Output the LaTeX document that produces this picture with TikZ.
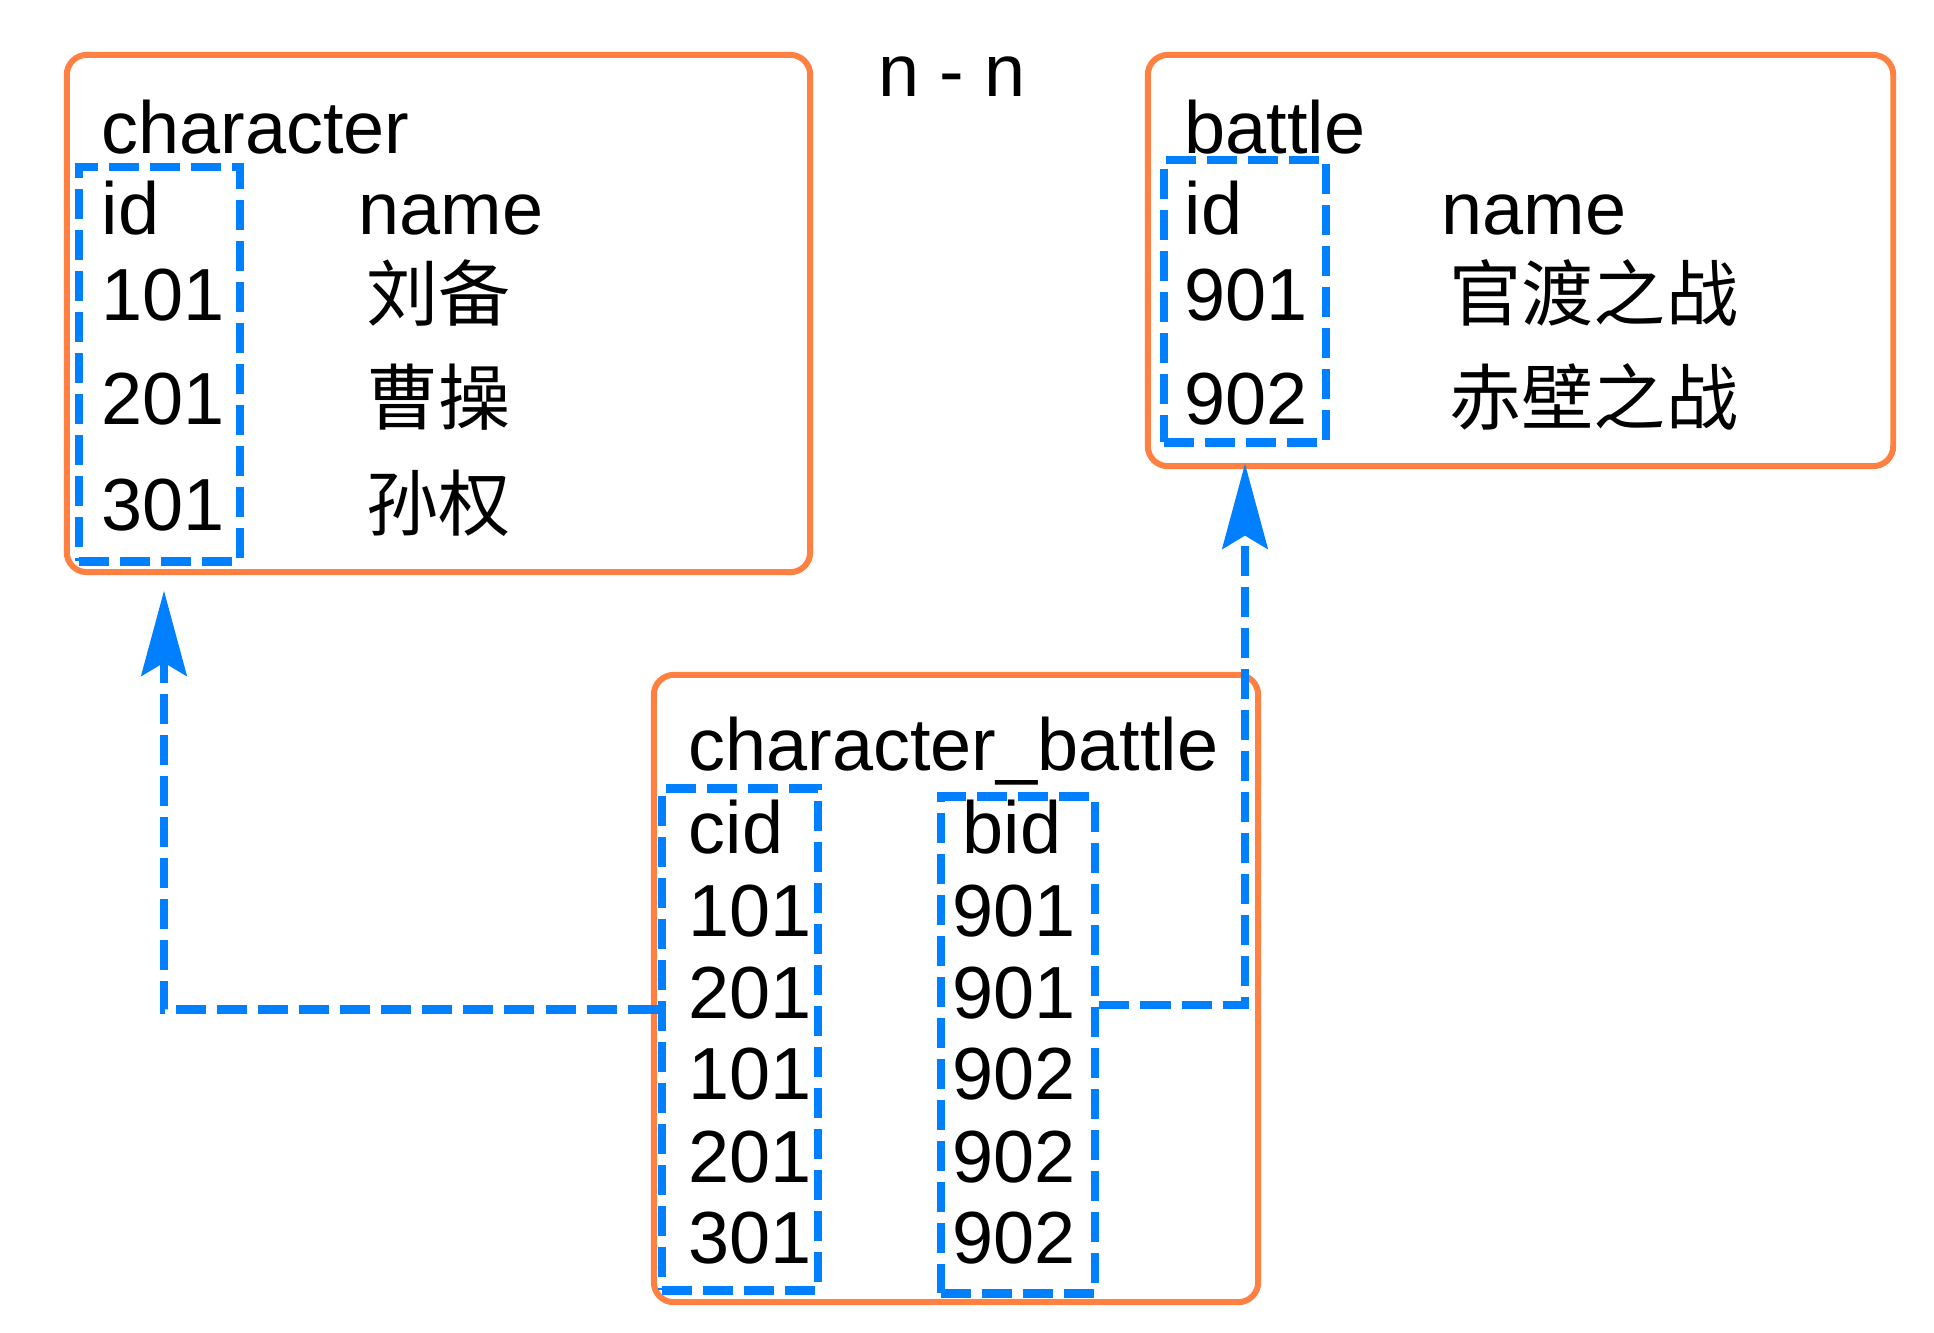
\documentclass[tikz,border=0pt]{standalone}
\usepackage{fontspec}
\setmainfont{Liberation Sans}
\newfontfamily\cjk{Noto Sans CJK SC}
\usetikzlibrary{arrows.meta}
\definecolor{tblorange}{RGB}{255,128,64}
\definecolor{keyblue}{RGB}{0,128,255}

\begin{document}
\begin{tikzpicture}[x=0.01cm, y=-0.01cm]

\tikzstyle{every node}=[font=\fontsize{21}{25}\selectfont]
\tikzstyle{tbl} = [rectangle, draw=tblorange, line width=1.7pt, rounded corners=0.2cm]
\tikzstyle{keycol} = [rectangle, draw=keyblue, line width=2.5pt, dash pattern=on 0.3cm off 0.11cm]
\tikzstyle{txt} = [anchor=base west, inner sep=0pt]
\tikzstyle{zh} = [txt, font=\cjk\fontsize{20.5}{24}\selectfont]
\tikzstyle{fk} = [draw=keyblue, line width=2.5pt, dash pattern=on 0.3cm off 0.11cm, -{Stealth[length=0.85cm, width=0.45cm, inset=0.13cm]}]

\useasboundingbox (0,0) rectangle (1934,1332);

% Tablas
\node[tbl, minimum width=7.43cm, minimum height=5.17cm] (character) at (438.5,313.5) {};
\node[tbl, minimum width=7.45cm, minimum height=4.11cm] (battle) at (1520.5,260.5) {};
\node[tbl, minimum width=6.04cm, minimum height=6.27cm] (characterbattle) at (956,988.5) {};

\node[txt, anchor=base] (cardinality) at (952,96) {n - n};

% character
\node[txt] (chartitle) at (101,153) {character};
\node[txt] (charidhead) at (101,234) {id};
\node[txt] (charnamehead) at (358,234) {name};
\node[txt] (charid1) at (101,320) {101};
\node[txt] (charid2) at (101,424) {201};
\node[txt] (charid3) at (101,530) {301};
\node[zh] (charname1) at (366,320) {刘备};
\node[zh] (charname2) at (366,424) {曹操};
\node[zh] (charname3) at (366,530) {孙权};
\node[keycol, minimum width=1.61cm, minimum height=3.94cm] (charidcol) at (159.5,364) {};

% battle
\node[txt] (battletitle) at (1184,153) {battle};
\node[txt] (battleidhead) at (1184,234) {id};
\node[txt] (battlenamehead) at (1441,234) {name};
\node[txt] (battleid1) at (1184,320) {901};
\node[txt] (battleid2) at (1184,424) {902};
\node[zh] (battlename1) at (1449,320) {官渡之战};
\node[zh] (battlename2) at (1449,424) {赤壁之战};
\node[keycol, minimum width=1.62cm, minimum height=2.82cm] (battleidcol) at (1245,301) {};

% character_battle
\node[txt] (cbtitle) at (688,770) {character\_battle};
\node[txt] (cidhead) at (688,853) {cid};
\node[txt] (bidhead) at (962,853) {bid};
\node[txt] (cid1) at (688,936) {101};
\node[txt] (cid2) at (688,1018) {201};
\node[txt] (cid3) at (688,1099) {101};
\node[txt] (cid4) at (688,1182) {201};
\node[txt] (cid5) at (688,1263) {301};
\node[txt] (bid1) at (952,936) {901};
\node[txt] (bid2) at (952,1018) {901};
\node[txt] (bid3) at (952,1099) {902};
\node[txt] (bid4) at (952,1182) {902};
\node[txt] (bid5) at (952,1263) {902};
\node[keycol, minimum width=1.56cm, minimum height=5.01cm] (cidcol) at (740,1039.5) {};
\node[keycol, minimum width=1.54cm, minimum height=4.96cm] (bidcol) at (1018,1045) {};

% Lines
\draw[fk, shorten >=0.25cm] ([yshift=0.3cm]cidcol.west) -| ([xshift=0.045cm]charidcol.south);
\draw[fk, shorten >=0.17cm] ([yshift=0.4cm]bidcol.east) -| (battleidcol.south);

\end{tikzpicture}
\end{document}
